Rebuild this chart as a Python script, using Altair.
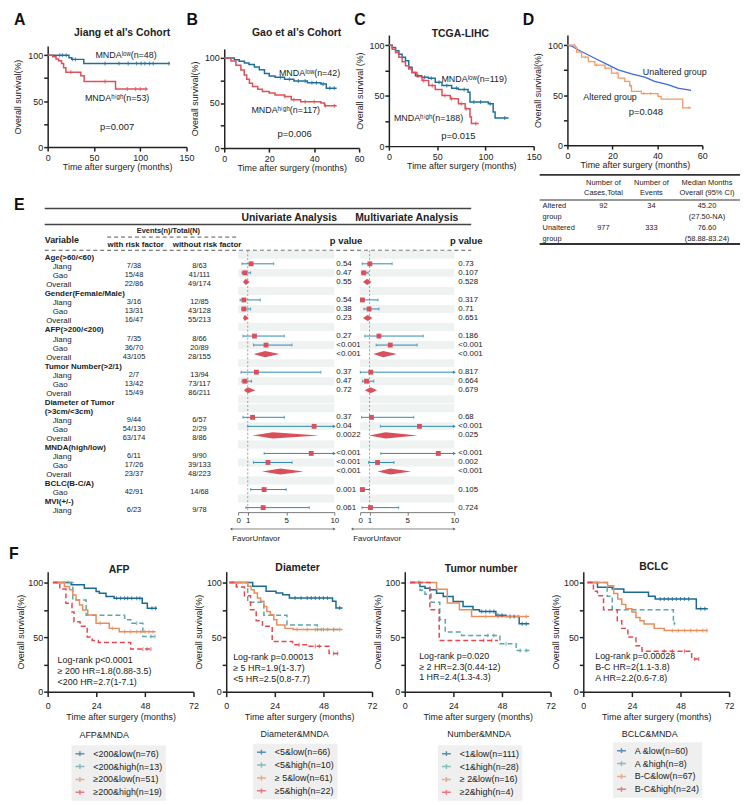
import altair as alt
import pandas as pd

FONT = "Liberation Sans"
INK = "#222222"
LOW_C = "#1e6f9b"
HIGH_C = "#df5059"
F_COLS = ["#1b6a96", "#5aa8a8", "#e98d5c", "#e5484f"]
F_DASH = [None, [5, 3], None, [5, 3]]
CI_C = "#2a8ab0"
SQ_C = "#d9505a"
BAND_C = "#eef2f1"

# ---------------- Panel A: Jiang cohort ----------------
A_NAMES = ["low", "high"]
A_LOW = [(0, 100), (23, 97.2), (26, 95.4), (39, 91), (132, 91)]
A_LOW_C = [13, 16, 20, 27, 30, 62, 77, 87, 96, 101, 105, 110, 114, 131]
A_HIGH = [(0, 100), (5.4, 98.2), (9, 95.7), (11.8, 94), (15, 91), (17.2, 86.4), (19.7, 81.4),
          (35.8, 77.5), (39.4, 71.4), (73.3, 63.2), (108, 63.2)]
A_HIGH_C = [25, 62, 86, 95, 100, 106]

# ---------------- Panel B: Gao cohort ----------------
B_LOW = [(0, 100), (4.5, 98), (6.7, 96.4), (9, 94.5), (11, 92.7), (13.4, 90), (15.6, 87), (17.9, 82.8),
         (20, 80), (22.6, 78.5), (26.8, 76.3), (31, 74.5), (37, 72.6), (43, 71.2), (45.4, 66.4), (50, 66.4)]
B_LOW_C = [25, 29, 33, 36, 39, 41, 44, 47, 49]
B_HIGH = [(0, 100), (3, 96.7), (5.2, 92), (7.4, 86.5), (8.9, 81), (10, 76.3), (11.2, 71.9), (12.6, 68.2),
          (14.9, 65.3), (17, 62.8), (20, 61), (22.6, 59), (26.8, 57.3), (29.8, 53.6), (34, 51.5), (43, 50),
          (44.6, 47), (50, 47)]
B_HIGH_C = [27, 31, 36, 40, 45, 49]

# ---------------- Panel C: TCGA-LIHC ----------------
C_LOW = [(0, 100), (3.4, 97.7), (6.9, 94.4), (10.3, 91), (13.7, 87.9), (17.2, 84.6), (20.6, 78), (24, 73),
         (27.5, 69.8), (34, 68.2), (41, 67.2), (48, 63.3), (55, 60), (65, 57.4), (72, 56), (82, 53.4),
         (84, 43.6), (103, 42), (108, 33.8), (110, 27.9), (124, 27.9)]
C_LOW_C = [30, 37, 44, 52, 60, 70, 78, 88, 95, 105, 120]
C_HIGH = [(0, 100), (3.4, 96), (6.9, 92.8), (10.3, 87.9), (13.7, 83.6), (17.2, 79.7), (20.6, 76.4), (24, 73),
          (29, 69), (34.4, 65), (41.2, 60), (48, 56), (55, 50.2), (63.6, 47), (72, 42), (79, 37), (84, 28.9),
          (85.5, 22.3), (93, 22.3)]
C_HIGH_C = [36, 45, 58, 65, 75, 80, 90]

# ---------------- Panel D: altered vs unaltered ----------------
D_NAMES = ["Unaltered", "Altered"]
D_UN = [(0, 100), (1.9, 99), (4.9, 95), (9.3, 90.1), (13.7, 85.1), (18.1, 80.2), (22.6, 75.2), (28.5, 71.3),
        (34.4, 68), (38.8, 63.7), (44.7, 60.4), (49.1, 57), (55, 54.8)]
D_ALT = [(0, 100), (3.4, 98), (4.1, 93), (6.3, 88), (9.3, 83.5), (12.2, 80), (16.7, 77), (19.6, 72),
         (22.6, 67), (25.5, 63.7), (27.7, 59.4), (28.5, 53.8), (32.9, 51.5), (40.3, 48.8), (41.7, 46),
         (51.3, 37.3), (55, 37.3)]
D_ALT_C = [3, 8, 13, 17, 22, 28, 34, 37, 54]

TBL_GROUP = ["Altered\ngroup", "Unaltered\ngroup"]
TBL_CASES = ["92", "977"]
TBL_EVENTS = ["34", "333"]
TBL_MEDIAN = ["45.20\n(27.50-NA)", "76.60\n(58.88-83.24)"]
TBL_HEAD = ["Number of\nCases,Total", "Number of\nEvents", "Median Months\nOverall (95% CI)"]

# ---------------- Panel E: forest ----------------
LABELS = ["Age(>60/<60)", "Jiang", "Gao", "Overall", "Gender(Female/Male)", "Jiang", "Gao", "Overall",
          "AFP(>200/<200)", "Jiang", "Gao", "Overall", "Tumor Number(>2/1)", "Jiang", "Gao", "Overall",
          "Diameter of Tumor", "(>3cm/<3cm)", "Jiang", "Gao", "Overall", "MNDA(high/low)", "Jiang", "Gao",
          "Overall", "BCLC(B-C/A)", "Gao", "MVI(+/-)", "Jiang"]
KIND = ["h", "s", "s", "o", "h", "s", "s", "o", "h", "s", "s", "o", "h", "s", "s", "o", "h", "h", "s", "s", "o",
        "h", "s", "s", "o", "h", "s", "h", "s"]
WITH = ["", "7/38", "15/48", "22/86", "", "3/16", "13/31", "16/47", "", "7/35", "36/70", "43/105", "", "2/7",
        "13/42", "15/49", "", "", "9/44", "54/130", "63/174", "", "6/11", "17/26", "23/37", "", "42/91", "", "6/23"]
WITHOUT = ["", "8/63", "41/111", "49/174", "", "12/85", "43/128", "55/213", "", "8/66", "20/89", "28/155", "",
           "13/94", "73/117", "86/211", "", "", "6/57", "2/29", "8/86", "", "9/90", "39/133", "48/223", "",
           "14/68", "", "9/78"]
U_EST = [None, 1.35, 0.7, 0.8, None, 0.6, 0.6, 0.7, None, 1.7, 2.9, 2.8, None, 1.9, 0.7, 1.0, None, None,
         1.5, 7.9, 3.6, None, 7.6, 3.1, 4.4, None, 2.7, None, 2.6]
U_LO = [None, 0.4, 0.4, 0.5, None, 0.2, 0.4, 0.5, None, 0.5, 1.6, 1.6, None, 0.3, 0.4, 0.6, None, None,
        0.5, 1.0, 1.5, None, 2.7, 1.6, 2.5, None, 1.3, None, 0.8]
U_HI = [None, 3.7, 1.3, 1.2, None, 2.3, 1.3, 1.1, None, 4.8, 5.6, 4.3, None, 8.6, 1.4, 1.8, None, None,
        4.8, 10, 8.4, None, 10, 5.6, 6.8, None, 5.0, None, 7.4]
U_P = [None, "0.54", "0.47", "0.55", None, "0.54", "0.38", "0.23", None, "0.27", "<0.001", "<0.001", None,
       "0.37", "0.47", "0.72", None, None, "0.37", "0.04", "0.0022", None, "<0.001", "<0.001", "<0.001", None,
       "0.001", None, "0.061"]
M_EST = [None, 1.03, 0.4, 0.75, None, 0.25, 0.95, 0.8, None, 2.0, 3.2, 2.45, None, 1.13, 0.68, 1.1, None, None,
         1.2, 6.3, 2.7, None, 8.3, 1.85, 3.2, None, 0.25, None, 1.1]
M_LO = [None, 0.22, 0.15, 0.3, None, 0.05, 0.4, 0.3, None, 0.5, 1.7, 1.4, None, 0.02, 0.25, 0.5, None, None,
        0.15, 2.15, 0.95, None, 2.2, 0.9, 1.85, None, 0.02, None, 0.2]
M_HI = [None, 3.4, 0.85, 1.2, None, 1.9, 2.0, 1.3, None, 6.7, 6.05, 3.9, None, 10, 1.45, 1.8, None, None,
        5.7, 10, 6.1, None, 10, 3.6, 5.4, None, 1.0, None, 4.1]
M_P = [None, "0.73", "0.107", "0.528", None, "0.317", "0.71", "0.651", None, "0.186", "<0.001", "<0.001", None,
       "0.817", "0.664", "0.679", None, None, "0.68", "<0.001", "0.025", None, "<0.001", "0.002", "<0.001", None,
       "0.105", None, "0.724"]
SHADED = [0, 2, 4, 6, 8, 10, 12, 14, 16, 17, 19, 21, 23, 25, 27]

# ---------------- Panel F: subgroup KM ----------------
AFP_NAMES = ["<200&low(n=76)", "<200&high(n=13)", "≥200&low(n=51)", "≥200&high(n=19)"]
AFP_CURVES = [
    [(2.6, 100), (11.6, 97.9), (18.1, 94.8), (23.9, 91.7), (25.5, 90.2), (28.8, 87.2), (32.8, 85.6), (46.7, 81),
     (49.2, 76.4), (54, 76.4)],
    [(2.6, 100), (12.4, 84), (19, 70), (38, 66), (41, 62.7), (47, 50.5), (54, 50.5)],
    [(2.6, 100), (8.3, 96.3), (10.8, 93.3), (12.4, 88.7), (14, 84.1), (15.7, 79.5), (17.3, 74.9), (19.8, 70.3),
     (23.9, 62.7), (30.4, 58), (35.3, 55), (53.3, 55)],
    [(2.6, 100), (6, 94), (9, 81), (12, 73), (13, 64), (16, 60), (19.5, 50), (22, 46.8), (25, 45), (41, 39),
     (52, 39)],
]
AFP_CENS = [[34, 36, 38, 39.5, 41.5, 44, 45.5, 51.5, 53.3], [10, 44, 51, 53],
            [26, 32, 38, 41, 44, 46, 48, 50, 52], [47, 49, 51]]

DIA_NAMES = ["<5&low(n=66)", "<5&high(n=10)", "≥ 5&low(n=61)", "≥5&high(n=22)"]
DIA_CURVES = [
    [(1.6, 100), (13.1, 96.6), (19.7, 92), (24.6, 90.4), (27.9, 88.9), (31.2, 85.8), (52.5, 82.8), (54.2, 76.6),
     (57.4, 76.6)],
    [(1.6, 100), (10.6, 82), (18.6, 70), (30, 61), (45, 57), (56, 57)],
    [(1.6, 100), (10.6, 96.6), (12.3, 93.5), (13.8, 90.4), (15.4, 85.8), (17, 82.8), (18.6, 78), (20, 73.5),
     (21.8, 70.4), (23.5, 66), (25, 61), (29, 58), (33, 57), (57.4, 57)],
    [(1.6, 100), (5, 96), (9, 88), (12, 75), (14.8, 65), (17.9, 60), (22.7, 46), (32.8, 43), (41, 41.7),
     (50.8, 35), (55.8, 35)],
]
DIA_CENS = [[34, 37, 40, 42, 44, 46, 48, 50, 56], [45, 48, 53], [35, 40, 44, 47, 50, 53, 56], [36, 44, 46, 53, 55]]

NUM_NAMES = ["<1&low(n=111)", "<1&high(n=28)", "≥ 2&low(n=16)", "≥2&high(n=4)"]
NUM_CURVES = [
    [(2.6, 100), (7.5, 96.3), (10, 94.8), (12.4, 93.3), (15.7, 90.2), (19, 87.2), (23.9, 82.6), (28.8, 78),
     (33.7, 75), (36.9, 73.5), (45, 70), (50, 68.9), (56.5, 62.3), (61.5, 62.3)],
    [(2.6, 100), (7.5, 92.9), (10, 89.3), (13, 82), (17.3, 66), (20, 54.6), (28, 51.5), (47, 43.9), (55, 37.7),
     (61.5, 37.7)],
    [(2.6, 100), (15.7, 93.8), (21, 81.3), (27, 75), (33, 68.8), (61.5, 68.8)],
    [(2.6, 100), (12.4, 75), (17, 47), (46, 47)],
]
NUM_CENS = [[38, 40, 42, 44, 46, 48, 52, 54, 58, 60], [7, 41, 44, 50, 57, 60], [40, 46, 52, 56, 60], [39, 43]]

BCLC_NAMES = ["A &low(n=60)", "A &high(n=8)", "B-C&low(n=67)", "B-C&high(n=24)"]
BCLC_CURVES = [
    [(2.1, 100), (7, 95.7), (14.3, 94.2), (20, 91.1), (32.2, 87.4), (35.5, 85), (55.8, 76), (61.5, 76)],
    [(2.1, 100), (11.8, 87.5), (14.3, 75), (44.5, 62.5), (45.5, 62.5)],
    [(2.1, 100), (12, 97), (15, 90), (17, 85), (19, 80), (21, 76), (24, 73), (26, 68), (28, 65), (30, 62),
     (35, 58), (40, 56), (61.5, 56)],
    [(2.1, 100), (5, 92), (7, 88), (10, 75), (16.8, 65), (19, 58), (22, 50), (26, 42), (29, 37), (53.5, 30),
     (58, 30)],
]
BCLC_CENS = [[38, 40, 42, 44, 46, 48, 50, 52, 58, 60], [45], [44, 47, 50, 53, 56, 59, 61], [40, 44, 50, 55, 57]]


# ================= helpers =================
def surv_at(pts, t):
    s = pts[0][1]
    for tt, ss in pts:
        if tt <= t:
            s = ss
    return s


ONE = pd.DataFrame({"v": [0]})


def txt(s, x, y, size=9, weight="normal", align="center", baseline="middle", color=INK, lh=None):
    kw = dict(fontSize=size, fontWeight=weight, align=align, baseline=baseline, color=color, font=FONT)
    if lh:
        kw.update(lineBreak="\n", lineHeight=lh)
    return alt.Chart(pd.DataFrame({"s": [s]})).mark_text(**kw).encode(
        x=alt.value(x), y=alt.value(y), text="s:N")


def hrule(x0, x1, y, width=1.5, color="#444444", dash=None):
    kw = dict(color=color, strokeWidth=width)
    if dash:
        kw["strokeDash"] = dash
    return alt.Chart(ONE).mark_rule(**kw).encode(x=alt.value(x0), x2=alt.value(x1), y=alt.value(y))


def frame(x0, x1, y0, y1):
    # invisible box that fixes the extent of a band in the layout
    return alt.Chart(ONE).mark_rect(opacity=0).encode(
        x=alt.value(x0), x2=alt.value(x1), y=alt.value(y0), y2=alt.value(y1))


def km_panel(names, curves, cens, colors, w, h, xmax, xticks, extra, xr=None, yr=None, dashes=None,
             interps=None, legend=None, lw=1.5, tick=4, ytitle="Overall survival(%)", xlabpad=2,
             xtitlepad=1, xtick=4, ylabpad=1, ytitlepad=5):
    xkw = dict(domain=[0, xmax], nice=False, zero=True)
    if xr:
        xkw["range"] = [0, xr]
    ykw = dict(domain=[0, 110], nice=False, zero=True)
    if yr:
        ykw["range"] = yr
    xs = alt.Scale(**xkw)
    ys = alt.Scale(**ykw)
    xax = alt.Axis(values=xticks, title="Time after surgery (months)", labelPadding=xlabpad,
                   titlePadding=xtitlepad, tickSize=xtick)
    yax = alt.Axis(values=[0, 25, 50, 75, 100], title=ytitle,
                   labelExpr="datum.value % 50 == 0 ? datum.label : ''",
                   labelPadding=ylabpad, titlePadding=ytitlepad)
    col = alt.Color("g:N", scale=alt.Scale(domain=names, range=colors), legend=legend)
    X = alt.X("t:Q", scale=xs, axis=xax)
    Y = alt.Y("s:Q", scale=ys, axis=yax)
    layers = []
    for i, (n, pts) in enumerate(zip(names, curves)):
        df = pd.DataFrame({"g": [n] * len(pts), "t": [p[0] for p in pts], "s": [p[1] for p in pts]})
        mkw = dict(interpolate=interps[i] if interps else "step-after", strokeWidth=lw)
        if dashes is not None and dashes[i]:
            mkw["strokeDash"] = dashes[i]
        layers.append(alt.Chart(df).mark_line(**mkw).encode(x=X, y=Y, color=col))
    crow = [{"g": n, "t": t, "s": surv_at(pts, t)} for n, pts, ts in zip(names, curves, cens) for t in ts]
    if crow:
        layers.append(alt.Chart(pd.DataFrame(crow)).mark_tick(orient="vertical", size=tick, thickness=1.2)
                      .encode(x=X, y=Y, color=col))
    return alt.layer(*layers, *extra).properties(width=w, height=h)


def f_legend(x, y):
    return alt.Legend(orient="none", legendX=x, legendY=y, title=None, fillColor="#efefef", padding=3,
                      labelFontSize=9, labelFont=FONT, labelColor=INK,
                      symbolType="M-1,0L1,0M0,-0.55L0,0.55", symbolSize=80, symbolStrokeWidth=1.5,
                      rowPadding=2, labelOffset=8)


def label(s, x, y):
    return txt(s, x, y, 16, "bold", "left", "top", "#111111")


# ================= band 1 (plots top at y=32) =================
chA = km_panel(A_NAMES, [A_LOW, A_HIGH], [A_LOW_C, A_HIGH_C], [LOW_C, HIGH_C], 148, 113, 150,
               [0, 50, 100, 150],
               [frame(-35, 0, -24, 140), label("A", -34, -23),
                txt("Jiang et al’s Cohort", 75, -2, 10.5, "bold"),
                txt("MNDAˡᵒʷ(n=48)", 79, 20), txt("MNDAʰⁱᵍʰ(n=53)", 70, 63), txt("p=0.007", 70, 93, 9.5)],
               xr=140, yr=[113, 11])
chB = km_panel(A_NAMES, [B_LOW, B_HIGH], [B_LOW_C, B_HIGH_C], [LOW_C, HIGH_C], 136, 114, 60,
               [0, 20, 40, 60],
               [label("B", -38, -23), txt("Gao et al’s Cohort", 73, -2, 10.5, "bold"),
                txt("MNDAˡᵒʷ(n=42)", 86, 38), txt("MNDAʰⁱᵍʰ(n=117)", 62, 76), txt("p=0.006", 71, 100, 9.5)],
               yr=[114, 14])
chC = km_panel(A_NAMES, [C_LOW, C_HIGH], [C_LOW_C, C_HIGH_C], [LOW_C, HIGH_C], 150, 112, 150,
               [0, 50, 100, 150],
               [label("C", -35, -23), txt("TCGA-LIHC", 72, -1, 10.5, "bold"),
                txt("MNDAˡᵒʷ(n=119)", 86, 44), txt("MNDAʰⁱᵍʰ(n=188)", 40, 84), txt("p=0.015", 70, 102, 9.5)],
               xr=146, yr=[112, 0], ytitle="Overall survival (%)")
chD = km_panel(D_NAMES, [D_UN, D_ALT], [[], D_ALT_C], ["#3b68da", "#f29a66"], 136, 111, 60,
               [0, 20, 40, 60],
               [label("D", -45, -23),
                txt("Unaltered group", 76, 37, 9, align="left"), txt("Altered group", 43, 62),
                txt("p=0.048", 79, 78, 9.5)],
               yr=[111, 0], interps=["linear", "step-after"], lw=1.3, tick=3)

# ================= band 2 (plots top at y=172) =================
FT, FB = 77, 341  # forest rows region (pixels inside band 2 plots)
FY = alt.Scale(domain=[-0.5, 28.5], range=[FT, FB], nice=False, zero=False)
ROWS = list(range(29))


def forest(est, lo, hi, pv, w, rw, band_x0, arrow_x0):
    xs = alt.Scale(domain=[0, 10], range=[0, rw], nice=False, zero=True)
    xax = alt.Axis(values=[0, 1, 5, 10], title=None, labelFontSize=8, tickSize=3, domainColor="#777777",
                   tickColor="#777777", domainWidth=1, tickWidth=1, labelPadding=1)

    def X(f):
        return alt.X(f, scale=xs, axis=xax)

    Yr = alt.Y("row:Q", scale=FY, axis=None)
    df = pd.DataFrame({"row": ROWS, "kind": KIND, "est": est, "lo": lo, "hi": hi})
    sub = df[df["kind"] == "s"].drop(columns=["kind"])
    tot = df[df["kind"] == "o"]
    pdf = pd.DataFrame({"row": [r for r, p in zip(ROWS, pv) if p], "p": [p for p in pv if p]})
    band = pd.DataFrame({"row": SHADED})
    dia = pd.DataFrame([{"row": int(r.row), "x": x, "y0": r.row - d, "y1": r.row + d}
                        for r in tot.itertuples() for x, d in ((r.lo, 0.0), (r.est, 0.34), (r.hi, 0.0))])
    cap = dict(orient="vertical", size=3, thickness=1, color=CI_C)
    layers = [
        alt.Chart(band).transform_calculate(y0="datum.row - 0.44", y1="datum.row + 0.44")
        .mark_rect(color=BAND_C).encode(x=alt.value(band_x0), x2=alt.value(rw),
                                        y=alt.Y("y0:Q", scale=FY, axis=None), y2="y1:Q"),
        alt.Chart(pd.DataFrame({"v": [1]})).mark_rule(color="#888888", strokeDash=[2, 2], strokeWidth=0.8)
        .encode(x=X("v:Q"), y=alt.value(FT), y2=alt.value(FB)),
        alt.Chart(sub).mark_rule(color=CI_C, strokeWidth=1).encode(x=X("lo:Q"), x2="hi:Q", y=Yr),
        alt.Chart(sub).mark_tick(**cap).encode(x=X("lo:Q"), y=Yr),
        alt.Chart(sub[sub["hi"] < 10]).mark_tick(**cap).encode(x=X("hi:Q"), y=Yr),
        alt.Chart(sub[sub["hi"] >= 10]).mark_point(shape="triangle-right", filled=True, size=12, color=CI_C,
                                                   opacity=1).encode(x=X("hi:Q"), y=Yr),
        alt.Chart(sub).mark_square(size=24, color=SQ_C, opacity=1).encode(x=X("est:Q"), y=Yr),
        alt.Chart(dia).mark_area(color=SQ_C, orient="vertical", opacity=1).encode(
            x=X("x:Q"), y=alt.Y("y0:Q", scale=FY, axis=None), y2="y1:Q", detail="row:N"),
        alt.Chart(pdf).mark_text(align="left", fontSize=8, color=INK, font=FONT).encode(
            x=alt.value(99), y=Yr, text="p:N"),
        hrule(arrow_x0, rw, FB + 17, 0.8, "#666666"),
        alt.Chart(ONE).mark_point(shape="triangle-left", filled=True, size=8, color="#666666", opacity=1)
        .encode(x=alt.value(arrow_x0), y=alt.value(FB + 17)),
        alt.Chart(ONE).mark_point(shape="triangle-right", filled=True, size=8, color="#666666", opacity=1)
        .encode(x=alt.value(rw), y=alt.value(FB + 17)),
        txt("FavorUnfavor", arrow_x0 + 1, FB + 27, 8, align="left"),
    ]
    return alt.layer(*layers).properties(width=w, height=FB)


chU = forest(U_EST, U_LO, U_HI, U_P, 123, 97, 0, -7)
chM = forest(M_EST, M_LO, M_HI, M_P, 209, 95, 0, -8)

tab = pd.DataFrame({"row": ROWS, "label": LABELS, "kind": KIND, "w": WITH, "wo": WITHOUT})
Yt = alt.Y("row:Q", scale=FY, axis=None)
t_layers = [
    frame(-35, 0, 0, 374),
    hrule(-3, 427, 35, 1.5), hrule(-3, 427, 51, 1.5),
    hrule(60, 192, 63.7, 1, "#555555", [4, 3]), hrule(-3, 427, 77, 1, "#555555", [4, 3]),
    label("E", -34, 23),
    txt("Univariate Analysis", 243.5, 44.7, 10.5, "bold"),
    txt("Multivariate Analysis", 362, 44.7, 10.5, "bold"),
    txt("Events(n)/Total(N)", 121.7, 57.3, 7.5, "bold"),
    txt("Variable", -3, 66.3, 9, "bold", "left"),
    txt("with risk factor", 88.7, 72, 8, "bold"),
    txt("without risk factor", 160.7, 72, 8, "bold"),
    txt("p value", 300.8, 68, 9.5, "bold"),
    txt("p value", 422, 67.3, 9.5, "bold"),
]
for kind, xx, wt in (("h", -3, "bold"), ("s", 5, "normal"), ("o", -1.5, "normal")):
    t_layers.append(alt.Chart(tab[tab["kind"] == kind]).mark_text(
        align="left", fontSize=8, fontWeight=wt, dy=3.5, color=INK, font=FONT).encode(
        x=alt.value(xx), y=Yt, text="label:N"))
for fld, xx in (("w", 87), ("wo", 153)):
    t_layers.append(alt.Chart(tab[tab[fld] != ""]).mark_text(
        align="center", fontSize=7.5, dy=2.5, color=INK, font=FONT).encode(
        x=alt.value(xx), y=Yt, text=f"{fld}:N"))
chT = alt.layer(*t_layers).properties(width=192, height=FB)

# table under D (multi-line cells: first line sits at the given y)
tdf = pd.DataFrame({"r": [0, 1], "g": TBL_GROUP, "c": TBL_CASES, "e": TBL_EVENTS, "m": TBL_MEDIAN})
TY = alt.Y("r:Q", scale=alt.Scale(domain=[0, 1], range=[32.5, 54.8]), axis=None)
TYc = alt.Y("r:Q", scale=alt.Scale(domain=[0, 1], range=[38, 60]), axis=None)
cols_x = [36.3, 84.7, 140.7]
tbl_layers = [hrule(-28, 174, 0.9, 1.8, "#333333"), hrule(-28, 174, 26.3, 1.2, "#333333"),
              hrule(-28, 174, 70.7, 2, "#333333")]
for hx, ht in zip(cols_x, TBL_HEAD):
    tbl_layers.append(txt(ht, hx, 9, 7.5, lh=10))
tbl_layers.append(alt.Chart(tdf).mark_text(align="left", fontSize=7.5, lineBreak="\n", lineHeight=11,
                                           color=INK, font=FONT).encode(x=alt.value(-25), y=TY, text="g:N"))
for hx, fld in zip(cols_x, ["c", "e"]):
    tbl_layers.append(alt.Chart(tdf).mark_text(align="center", fontSize=7.5, color=INK, font=FONT).encode(
        x=alt.value(hx), y=TYc, text=f"{fld}:N"))
tbl_layers.append(alt.Chart(tdf).mark_text(align="center", fontSize=7.5, lineBreak="\n", lineHeight=11,
                                           color=INK, font=FONT).encode(x=alt.value(cols_x[2]), y=TY, text="m:N"))
chTable = alt.layer(*tbl_layers).properties(width=175, height=71)

# ================= band 3 (plots top at y=573) =================
FKW = dict(dashes=F_DASH, xlabpad=5, xtitlepad=2, xtick=5, ytitlepad=2.5)


def f_texts(title, tx, ty, lines, lx, ly, ltitle, ltx, lty):
    out = [txt(title, tx, ty, 10.5, "bold")]
    for i, s in enumerate(lines):
        out.append(txt(s, lx, ly + 11 * i, 9, align="left"))
    out.append(txt(ltitle, ltx, lty, 9))
    return out


chAFP = km_panel(AFP_NAMES, AFP_CURVES, AFP_CENS, F_COLS, 147, 121, 72, [0, 24, 48, 72],
                 [frame(-40, 0, -27, 224), label("F", -39, -26)] +
                 f_texts("AFP", 72, -2, ["Log-rank p<0.0001", "≥ 200 HR=1.8(0.88-3.5)", "<200 HR=2.7(1-7.1)"],
                         10, 89.5, "AFP&MNDA", 57, 165),
                 legend=f_legend(24, 175), **FKW)
chDIA = km_panel(DIA_NAMES, DIA_CURVES, DIA_CENS, F_COLS, 147, 121, 72, [0, 24, 48, 72],
                 f_texts("Diameter", 72, -4, ["Log-rank p=0.00013", "≥ 5 HR=1.9(1-3.7)", "<5 HR=2.5(0.8-7.7)"],
                         7, 86.3, "Diameter&MNDA", 69, 164),
                 legend=f_legend(27, 173.5), **FKW)
chNUM = km_panel(NUM_NAMES, NUM_CURVES, NUM_CENS, F_COLS, 147, 121, 72, [0, 24, 48, 72],
                 f_texts("Tumor number", 77, -2.5, ["Log-rank p=0.020", "≥ 2 HR=2.3(0.44-12)", "1 HR=2.4(1.3-4.3)"],
                         14.5, 84.7, "Number&MNDA", 75, 163.7),
                 legend=f_legend(33.5, 175), **FKW)
chBCLC = km_panel(BCLC_NAMES, BCLC_CURVES, BCLC_CENS, F_COLS, 147, 121, 72, [0, 24, 48, 72],
                  f_texts("BCLC", 71, -4.7, ["Log-rank p=0.00028", "B-C HR=2(1.1-3.8)", "A HR=2.2(0.6-7.8)"],
                          12, 85.3, "BCLC&MNDA", 67, 163.7),
                  legend=f_legend(30, 172), **FKW)


# ================= assembly =================
def indep(c):
    return c.resolve_scale(color="independent").resolve_legend(color="independent")


band1 = indep(alt.hconcat(chA, chB, chC, chD, spacing=30, bounds="flush"))
band2 = indep(alt.hconcat(chT, chU, chM, chTable, spacing=0, bounds="flush"))
band3 = indep(alt.hconcat(chAFP, chDIA, chNUM, chBCLC, spacing=33, bounds="flush"))

chart = indep(alt.vconcat(band1, band2, band3, spacing=0)).properties(padding=0).configure(
    font=FONT).configure_view(stroke=None).configure_axis(
    domainColor=INK, domainWidth=1.5, tickColor=INK, tickWidth=1.5, tickSize=4, labelFontSize=9,
    titleFontSize=9, titleFontWeight="normal", labelColor=INK, titleColor=INK, grid=False,
    labelFont=FONT, titleFont=FONT, labelFlush=False, labelOverlap=False).configure_text(font=FONT)

chart.save("out.html", embed_options={"renderer": "svg", "actions": False})
